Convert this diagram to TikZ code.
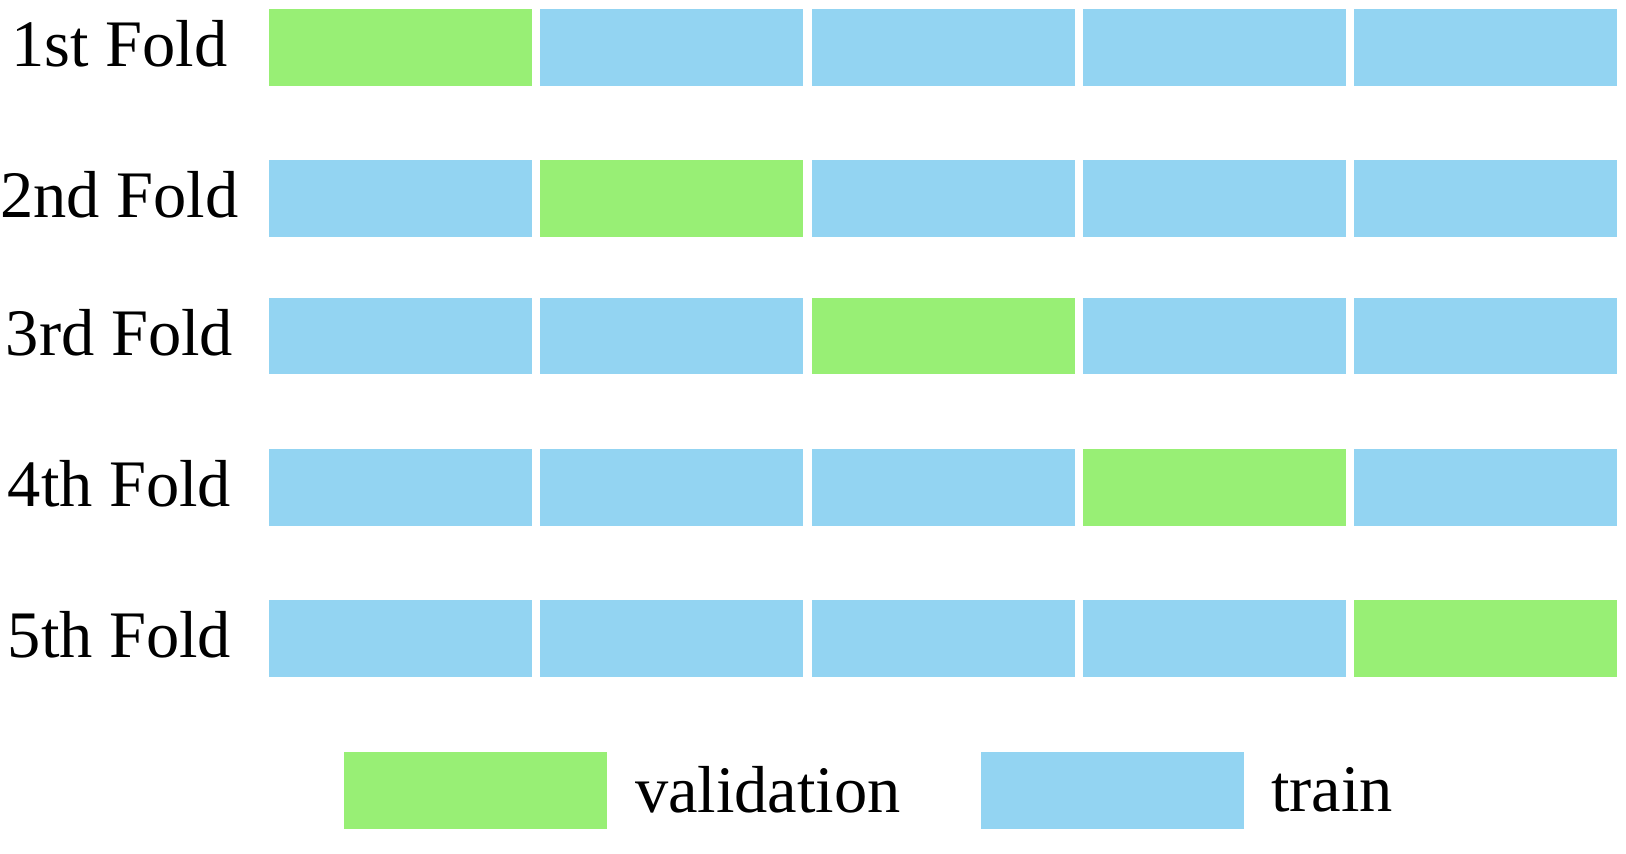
\documentclass[tikz,border=0pt]{standalone}
\usepackage{fontspec}
\setmainfont{Liberation Serif}
\definecolor{valgreen}{RGB}{152,239,117}
\definecolor{trainblue}{RGB}{147,212,242}
\begin{document}
\begin{tikzpicture}[x=0.01cm,y=-0.01cm,
  cell/.style={draw=none,inner sep=0,outer sep=0,anchor=north west,minimum width=2.63cm,minimum height=0.765cm},
  lbl/.style={inner sep=0,outer sep=0,font=\fontsize{18.9pt}{22pt}\selectfont}]
\useasboundingbox (0,0) rectangle (1626,854);
\fill[white] (0,0) rectangle (1626,854);
\foreach \r/\top/\name in {1/9/1st,2/160/2nd,3/297.7/3rd,4/449.3/4th,5/600/5th}{
  \node[lbl,anchor=base] (l\r) at (119.5,\top+57.3) {\name\ Fold};
  \foreach \c in {1,...,5}{
    \ifnum\c=\r
      \node[cell,fill=valgreen] (c\r\c) at (269+271.25*\c-271.25,\top) {};
    \else
      \node[cell,fill=trainblue] (c\r\c) at (269+271.25*\c-271.25,\top) {};
    \fi
  }
}
\node[cell,fill=valgreen] (legval) at (344,752) {};
\node[lbl,anchor=base west] (legvaltext) at (635,812) {validation};
\node[cell,fill=trainblue] (legtrain) at (981,752) {};
\node[lbl,anchor=base west] (legtraintext) at (1271,811) {train};
\end{tikzpicture}
\end{document}
